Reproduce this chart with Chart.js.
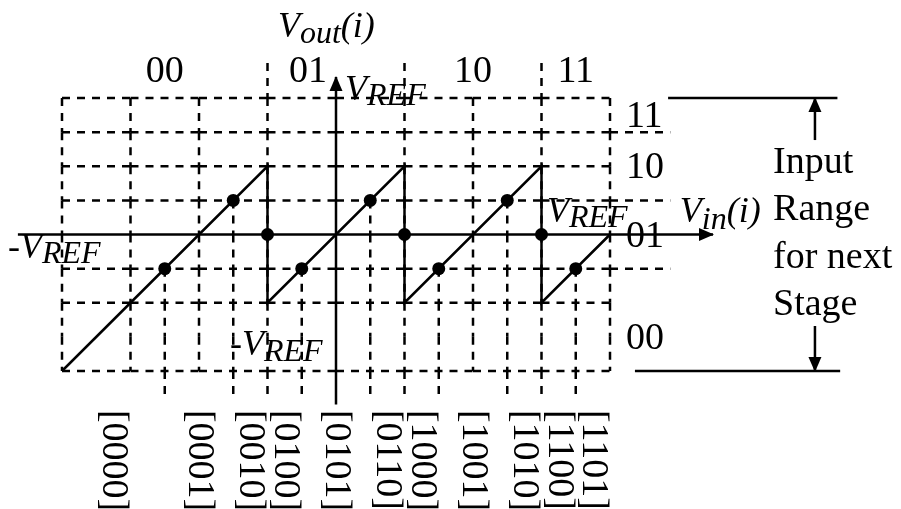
<!DOCTYPE html>
<html>
<head>
<meta charset="utf-8">
<script src="https://cdn.jsdelivr.net/npm/chart.js@4.4.1/dist/chart.umd.min.js"></script>
<style>
    body { margin: 0; background: #fff; }
    #wrap { width: 901px; height: 509px; }
</style>
</head>
<body>
<div id="wrap"><canvas id="chart_residue"></canvas></div>
<script>
// Vin and Vout are both normalised to VREF
var h_levels = [-1, -0.5, -0.25, 0.25, 0.5, 0.75, 1]
var v_levels = [-1, -0.75, -0.5, 0.5, 1]
var grid_levels = [-1, -0.75, -0.5, -0.25, 0, 0.25, 0.5, 0.75, 1]
var stage_bounds = [-1, -0.25, 0.25, 0.75, 1]
var stage_codes = ['00', '01', '10', '11']
var code_bounds = [-1, -0.625, -0.375, -0.25, -0.125, 0.125, 0.25, 0.375, 0.625, 0.75, 0.875, 1]
var code_labels = ['[0000]', '[0001]', '[0010]', '[0100]', '[0101]', '[0110]', '[1000]', '[1001]', '[1010]', '[1100]', '[1101]']
var next_bounds = [-0.25, 0.25, 0.75]
var next_codes = ['00', '01', '10', '11']
var next_code_levels = [-0.75, 0, 0.5, 0.875]
var residue_vin = [-1, -0.25, -0.25, 0.25, 0.25, 0.75, 0.75, 1]
var residue_vout = [-1, 0.5, -0.5, 0.5, -0.5, 0.5, -0.5, 0]
var sample_vin = [-0.625, -0.375, -0.25, -0.125, 0.125, 0.25, 0.375, 0.625, 0.75, 0.875]
var sample_vout = [-0.25, 0.25, 0, -0.25, 0.25, 0, -0.25, 0.25, 0, -0.25]

// extents of the drawing, in the same units
var X_MIN = -1.22628, X_MAX = 2.06204, Y_MIN = -2.01099, Y_MAX = 1.71795
var EXT_RIGHT = 1.22, EXT_TOP = 1.256, EXT_BOTTOM = -1.19
var AXIS_X = [-1.161, 1.376], AXIS_Y = [-1.245, 1.154]
var BRACKET_X = 1.748

var SERIF = '"Liberation Serif", "Times New Roman", serif'
var DASH = [8, 7]

function seg(x0, y0, x1, y1, dashed, arrow) {
    return {
        data: [{ x: x0, y: y0 }, { x: x1, y: y1 }],
        showLine: true,
        borderColor: '#000',
        borderWidth: 2.5,
        borderDash: dashed ? DASH : [],
        pointRadius: 0,
        arrow: !!arrow
    }
}

// a dashed run is split at every grid level so each cell edge starts with a dash
function dashed_run(list, fixed, from, to, horizontal) {
    var stops = [from]
    var lo = Math.min(from, to), hi = Math.max(from, to)
    var inner = grid_levels.filter(function (g) { return g > lo + 1e-9 && g < hi - 1e-9 })
    if (from > to) inner.reverse()
    stops = stops.concat(inner, [to])
    for (var i = 0; i < stops.length - 1; i++) {
        if (horizontal) {
            list.push(seg(stops[i], fixed, stops[i + 1], fixed, true))
        } else {
            list.push(seg(fixed, stops[i], fixed, stops[i + 1], true))
        }
    }
}

var datasets = []

h_levels.forEach(function (y) {
    var end = next_bounds.indexOf(y) >= 0 ? EXT_RIGHT : 1
    dashed_run(datasets, y, -1, 1, true)
    if (end > 1) datasets.push(seg(1, y, end, y, true))
})
v_levels.forEach(function (x) {
    dashed_run(datasets, x, 1, -1, false)
})
stage_bounds.slice(1, -1).forEach(function (x) {
    datasets.push(seg(x, EXT_TOP, x, 1, true))
    dashed_run(datasets, x, 1, -1, false)
    datasets.push(seg(x, -1, x, EXT_BOTTOM, true))
})
sample_vin.forEach(function (x, i) {
    if (sample_vout[i] == 0) return
    dashed_run(datasets, x, sample_vout[i], -1, false)
    datasets.push(seg(x, -1, x, EXT_BOTTOM, true))
})

// axes
datasets.push(seg(AXIS_X[0], 0, AXIS_X[1], 0, false, true))
datasets.push(seg(0, AXIS_Y[0], 0, AXIS_Y[1], false, true))

// input range of the next stage
datasets.push(seg(1.212, 1, 1.83, 1, false))
datasets.push(seg(1.091, -1, 1.84, -1, false))
datasets.push(seg(BRACKET_X, 0.692, BRACKET_X, 1, false, true))
datasets.push(seg(BRACKET_X, -0.67, BRACKET_X, -1, false, true))

// residue transfer curve
datasets.push({
    data: residue_vin.map(function (x, i) { return { x: x, y: residue_vout[i] } }),
    showLine: true,
    borderColor: '#000',
    borderWidth: 2.5,
    pointRadius: 0
})

// sampled points
datasets.push({
    data: sample_vin.map(function (x, i) { return { x: x, y: sample_vout[i] } }),
    showLine: false,
    pointRadius: 6.5,
    pointBackgroundColor: '#000',
    pointBorderWidth: 0
})

var I36 = 'italic 36px ' + SERIF
var I32 = 'italic 32px ' + SERIF
var R36 = '36px ' + SERIF
var R38 = '38px ' + SERIF

var symbol_labels = [
    { x: -0.212, y: 1.447, parts: [['V', I36, 0], ['out', I32, 6], ['(i)', I36, 0]] },
    { x: 0.033, y: 0.985, parts: [['V', I36, 0], ['REF', I32, 5]] },
    { x: -1.197, y: -0.172, parts: [['-', R36, 0], ['V', I36, 0], ['REF', I32, 5]] },
    { x: 0.770, y: 0.092, parts: [['V', I36, 0], ['REF', I32, 5]] },
    { x: 1.255, y: 0.092, parts: [['V', I36, 0], ['in', I32, 7], ['(i)', I36, 0]] },
    { x: -0.387, y: -0.883, parts: [['-', R36, 0], ['V', I36, 0], ['REF', I32, 6]] }
]
var range_note = ['Input', 'Range', 'for next', 'Stage']

var diagram_plugin = {
    id: 'diagram_marks',
    afterDatasetsDraw: function (chart) {
        var ctx = chart.ctx
        var xs = chart.scales.x, ys = chart.scales.y
        ctx.save()
        ctx.fillStyle = '#000'

        // arrow heads at the end of flagged lines
        chart.data.datasets.forEach(function (ds, i) {
            if (!ds.arrow) return
            var pts = chart.getDatasetMeta(i).data
            var tip = pts[pts.length - 1], prev = pts[pts.length - 2]
            var a = Math.atan2(tip.y - prev.y, tip.x - prev.x)
            ctx.save()
            ctx.translate(tip.x, tip.y)
            ctx.rotate(a)
            ctx.beginPath()
            ctx.moveTo(1, 0)
            ctx.lineTo(-14, -6.5)
            ctx.lineTo(-14, 6.5)
            ctx.closePath()
            ctx.fill()
            ctx.restore()
        })

        ctx.textAlign = 'left'
        ctx.textBaseline = 'alphabetic'
        symbol_labels.forEach(function (lab) {
            var px = xs.getPixelForValue(lab.x), py = ys.getPixelForValue(lab.y)
            lab.parts.forEach(function (part) {
                ctx.font = part[1]
                ctx.fillText(part[0], px, py + part[2])
                px += ctx.measureText(part[0]).width
            })
        })

        // first stage codes above the plot
        ctx.font = R38
        var top = ys.getPixelForValue(1.117)
        stage_codes.forEach(function (code, i) {
            var a = stage_bounds[i], b = stage_bounds[i + 1]
            if (a < 0 && b > 0) {
                ctx.textAlign = 'right'
                ctx.fillText(code, xs.getPixelForValue(0) - 9, top)
            } else {
                ctx.textAlign = 'center'
                ctx.fillText(code, xs.getPixelForValue((a + b) / 2), top)
            }
        })

        // next stage codes on the right
        ctx.textAlign = 'left'
        next_codes.forEach(function (code, i) {
            ctx.fillText(code, xs.getPixelForValue(1.058), ys.getPixelForValue(next_code_levels[i]) + 12)
        })

        var nx = xs.getPixelForValue(1.595), ny = ys.getPixelForValue(0.451)
        range_note.forEach(function (line, i) {
            ctx.fillText(line, nx, ny + i * 47.3)
        })

        // output codes, written downwards under each interval
        var codeTop = ys.getPixelForValue(-1.285)
        ctx.textBaseline = 'middle'
        code_labels.forEach(function (code, i) {
            var cx = xs.getPixelForValue((code_bounds[i] + code_bounds[i + 1]) / 2)
            ctx.save()
            ctx.translate(cx, codeTop)
            ctx.rotate(Math.PI / 2)
            ctx.fillText(code, 0, 0)
            ctx.restore()
        })
        ctx.restore()
    }
}

new Chart(document.getElementById('chart_residue'), {
    type: 'scatter',
    data: { datasets: datasets },
    options: {
        responsive: true,
        maintainAspectRatio: false,
        animation: false,
        devicePixelRatio: 1,
        layout: { padding: 0, autoPadding: false },
        scales: {
            x: { type: 'linear', min: X_MIN, max: X_MAX, display: false },
            y: { type: 'linear', min: Y_MIN, max: Y_MAX, display: false }
        },
        plugins: {
            legend: { display: false },
            tooltip: { enabled: false }
        }
    },
    plugins: [diagram_plugin]
})
</script>
</body>
</html>
